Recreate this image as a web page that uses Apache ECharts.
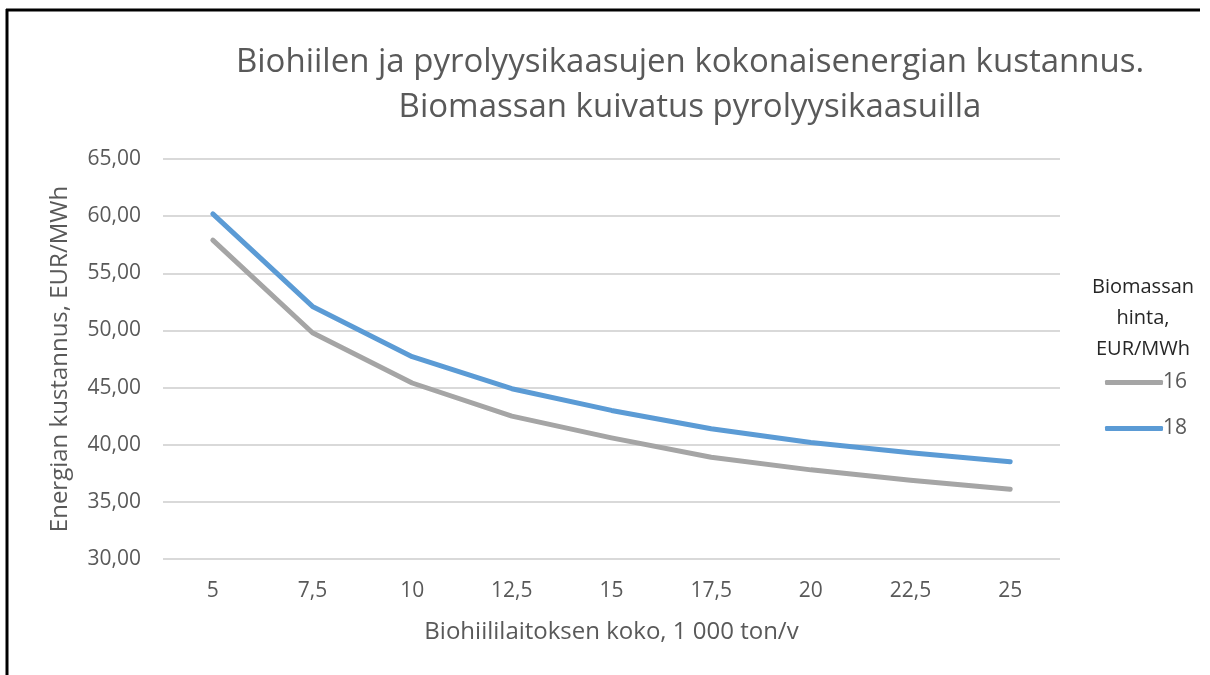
<!DOCTYPE html>
<html>
<head>
<meta charset="utf-8">
<script src="https://cdn.jsdelivr.net/npm/echarts@6/dist/echarts.min.js"></script>
<style>
  html, body { margin: 0; padding: 0; background: #fff; }
  #chart { width: 1210px; height: 675px; }
</style>
</head>
<body>
<div id="chart"></div>
<script>
// koko, 1 000 ton/v
var categories = ['5', '7,5', '10', '12,5', '15', '17,5', '20', '22,5', '25'];
// biomassan hinta 16 EUR/MWh
var price16 = [57.9, 49.8, 45.4, 42.5, 40.6, 38.9, 37.8, 36.9, 36.1];
// biomassan hinta 18 EUR/MWh
var price18 = [60.2, 52.1, 47.7, 44.9, 43.0, 41.4, 40.2, 39.3, 38.5];
var seriesNames = ['16', '18'];

var font = '"Open Sans", "Liberation Sans", sans-serif';
var myChart = echarts.init(document.getElementById('chart'));

var option = {
  animation: false,
  textStyle: { fontFamily: font },
  title: [{
    text: 'Biohiilen ja pyrolyysikaasujen kokonaisenergian kustannus.\nBiomassan kuivatus pyrolyysikaasuilla',
    left: 685,
    top: 35,
    textAlign: 'center',
    textStyle: { fontFamily: font, fontSize: 33, fontWeight: 'normal', color: '#595959', lineHeight: 45, align: 'center' }
  }, {
    text: 'Biomassan\nhinta,\nEUR/MWh',
    left: 1138,
    top: 267,
    textAlign: 'center',
    textStyle: { fontFamily: font, fontSize: 20, fontWeight: 'normal', color: '#262626', lineHeight: 31, align: 'center' }
  }],
  legend: {
    orient: 'vertical',
    left: 1100,
    top: 367,
    itemWidth: 58,
    itemHeight: 5,
    itemGap: 25,
    icon: 'roundRect',
    data: seriesNames,
    textStyle: { fontFamily: font, fontSize: 21, color: '#595959', padding: [0, 0, 0, -5] }
  },
  grid: { left: 163, right: 150, top: 159, bottom: 116, containLabel: false },
  xAxis: {
    type: 'category',
    data: categories,
    boundaryGap: true,
    name: 'Biohiililaitoksen koko, 1 000 ton/v',
    nameLocation: 'middle',
    nameGap: 61,
    nameTextStyle: { fontFamily: font, fontSize: 24, color: '#595959' },
    axisLine: { show: false },
    axisTick: { show: false },
    axisLabel: { fontFamily: font, fontSize: 21, color: '#595959', margin: 22 }
  },
  yAxis: {
    type: 'value',
    min: 30,
    max: 65,
    interval: 5,
    name: 'Energian kustannus, EUR/MWh',
    nameLocation: 'middle',
    nameGap: 91,
    nameTextStyle: { fontFamily: font, fontSize: 24, color: '#595959' },
    axisLine: { show: false },
    axisTick: { show: false },
    splitLine: { lineStyle: { color: '#d9d9d9', width: 2 } },
    axisLabel: {
      fontFamily: font, fontSize: 21, color: '#595959', margin: 22,
      formatter: function (v) { return v.toFixed(2).replace('.', ','); }
    }
  },
  series: [{
    name: seriesNames[0],
    type: 'line',
    data: price16,
    symbol: 'none',
    color: '#a5a5a5',
    lineStyle: { width: 5, color: '#a5a5a5', cap: 'round', join: 'round' }
  }, {
    name: seriesNames[1],
    type: 'line',
    data: price18,
    symbol: 'none',
    color: '#5b9bd5',
    lineStyle: { width: 5, color: '#5b9bd5', cap: 'round', join: 'round' }
  }],
  graphic: [{
    type: 'line',
    shape: { x1: 6, y1: 10, x2: 1200, y2: 10 },
    style: { stroke: '#000', lineWidth: 3 }
  }, {
    type: 'line',
    shape: { x1: 7, y1: 9, x2: 7, y2: 675 },
    style: { stroke: '#000', lineWidth: 3 }
  }]
};

myChart.setOption(option);
window.onresize = myChart.resize;
</script>
</body>
</html>
